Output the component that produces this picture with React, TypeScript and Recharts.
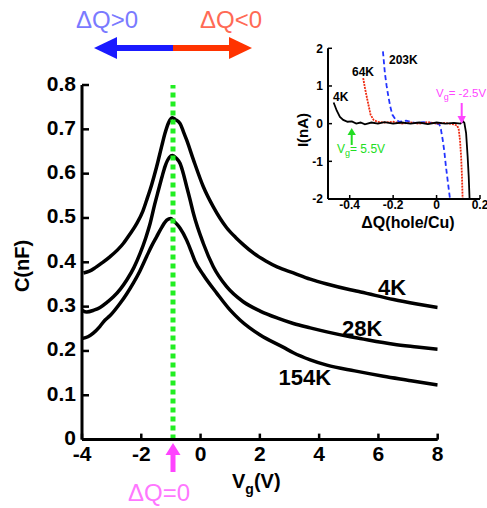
import { LineChart, Line, XAxis, YAxis, ReferenceLine, ReferenceDot } from 'recharts';

const FONT = '"Liberation Sans", Arial, Helvetica, sans-serif';

// main panel: C(nF) vs Vg(V)
const xTicks = [-4, -2, 0, 2, 4, 6, 8];
const yTicks = [0, 0.1, 0.2, 0.3, 0.4, 0.5, 0.6, 0.7, 0.8];

const vg4K = [-3.95, -3.75, -3.55, -3.3, -3.05, -2.8, -2.6, -2.4, -2.15, -1.95, -1.82, -1.65, -1.48, -1.3, -1.2, -1.08, -0.95, -0.85, -0.69, -0.58, -0.47, -0.24, 0.09, 0.43, 0.88, 1.2, 1.44, 1.8, 2.2, 2.6, 3.13, 3.7, 4.26, 5.05, 5.4, 6.51, 7.3, 8.0];
const c4K = [0.376, 0.38, 0.388, 0.4, 0.413, 0.428, 0.443, 0.462, 0.488, 0.515, 0.54, 0.575, 0.616, 0.665, 0.691, 0.715, 0.726, 0.722, 0.713, 0.695, 0.676, 0.631, 0.571, 0.525, 0.478, 0.455, 0.44, 0.42, 0.403, 0.389, 0.376, 0.362, 0.351, 0.338, 0.333, 0.316, 0.306, 0.298];

const vg28K = [-4.0, -3.84, -3.6, -3.39, -3.15, -2.94, -2.7, -2.49, -2.25, -2.04, -1.85, -1.7, -1.55, -1.42, -1.3, -1.2, -1.05, -0.95, -0.82, -0.69, -0.58, -0.47, -0.35, -0.24, 0.09, 0.43, 0.88, 1.44, 2.01, 2.6, 3.13, 3.7, 4.26, 5.05, 5.38, 6.51, 7.3, 8.0];
const c28K = [0.292, 0.288, 0.292, 0.298, 0.31, 0.322, 0.34, 0.36, 0.388, 0.42, 0.455, 0.488, 0.53, 0.563, 0.593, 0.616, 0.637, 0.641, 0.635, 0.623, 0.6, 0.571, 0.54, 0.51, 0.443, 0.39, 0.345, 0.311, 0.29, 0.274, 0.262, 0.252, 0.243, 0.232, 0.228, 0.215, 0.209, 0.204];

const vg154K = [-4.0, -3.8, -3.62, -3.4, -3.22, -3.05, -2.72, -2.5, -2.27, -2.05, -1.82, -1.65, -1.48, -1.3, -1.14, -1.0, -0.92, -0.8, -0.69, -0.47, -0.3, -0.19, 0.09, 0.55, 1.0, 1.33, 2.01, 2.8, 3.13, 3.7, 4.26, 5.2, 6.17, 7.1, 8.0];
const c154K = [0.228, 0.232, 0.24, 0.255, 0.27, 0.28, 0.307, 0.328, 0.353, 0.38, 0.413, 0.437, 0.458, 0.48, 0.495, 0.499, 0.494, 0.486, 0.477, 0.45, 0.422, 0.403, 0.372, 0.33, 0.292, 0.27, 0.236, 0.208, 0.196, 0.18, 0.168, 0.155, 0.143, 0.133, 0.123];

const neutralVg = -0.93;
const curveLabels = [
  { name: '4K', x: 6.46, y: 0.344 },
  { name: '28K', x: 5.45, y: 0.252 },
  { name: '154K', x: 3.52, y: 0.141 },
];

// inset: I(nA) vs dQ(hole/Cu)
const insetXTicks = [-0.4, -0.2, 0, 0.2];
const insetYTicks = [-2, -1, 0, 1, 2];

const dq4K = [-0.474, -0.46, -0.445, -0.43, -0.41, -0.39, -0.37, -0.35, -0.33, -0.3, -0.27, -0.24, -0.2, -0.16, -0.12, -0.08, -0.04, 0.0, 0.04, 0.08, 0.11, 0.122, 0.128, 0.136, 0.143, 0.148, 0.152];
const i4K = [0.56, 0.35, 0.18, 0.1, 0.05, 0.06, 0.0, 0.03, -0.02, 0.03, 0.0, 0.04, 0.0, 0.03, 0.0, 0.03, -0.01, 0.03, 0.0, 0.02, 0.0, 0.06, 0.02, -0.25, -0.87, -1.4, -2];

const dq64K = [-0.338, -0.33, -0.319, -0.304, -0.29, -0.273, -0.24, -0.2, -0.16, -0.12, -0.08, -0.04, 0.0, 0.04, 0.08, 0.095, 0.102, 0.108, 0.113, 0.117, 0.12];
const i64K = [1.21, 0.95, 0.64, 0.24, 0.1, 0.05, 0.03, 0.05, 0.0, 0.03, 0.0, 0.04, 0.0, 0.02, -0.02, -0.05, -0.15, -0.45, -0.87, -1.4, -2];

const dq203K = [-0.247, -0.242, -0.238, -0.23, -0.222, -0.213, -0.204, -0.19, -0.173, -0.14, -0.1, -0.06, -0.02, 0.0, 0.013, 0.02, 0.028, 0.036, 0.043, 0.052, 0.062];
const i203K = [1.92, 1.6, 1.34, 1.0, 0.72, 0.45, 0.24, 0.12, 0.05, 0.08, 0.02, 0.04, 0.02, 0.0, -0.02, -0.15, -0.42, -0.75, -1.13, -1.55, -2];

const zip = (xs: number[], ys: number[]) => xs.map((x, i) => ({ x, y: ys[i] }));

const MainXTick = ({ x, y, payload }: any) => (
  <g>
    <line x1={x} y1={y} x2={x} y2={y - 6} stroke="#000" strokeWidth={2.5} />
    <text x={x} y={y + 21} textAnchor="middle" fontFamily={FONT} fontWeight="bold" fontSize={21} fill="#000">
      {payload.value}
    </text>
  </g>
);

const MainYTick = ({ x, y, payload }: any) => (
  <g>
    <line x1={x} y1={y} x2={x + 7} y2={y} stroke="#000" strokeWidth={2.5} />
    <text x={x - 6} y={y + 5.5} textAnchor="end" fontFamily={FONT} fontWeight="bold" fontSize={21} fill="#000">
      {payload.value}
    </text>
  </g>
);

const InsetXTick = ({ x, y, payload }: any) => (
  <g>
    <line x1={x} y1={y} x2={x} y2={y - 4} stroke="#000" strokeWidth={1.5} />
    <text x={x} y={y + 10} textAnchor="middle" fontFamily={FONT} fontWeight="bold" fontSize={12} fill="#000">
      {payload.value}
    </text>
  </g>
);

const InsetYTick = ({ x, y, payload }: any) => (
  <g>
    <line x1={x} y1={y} x2={x + 4} y2={y} stroke="#000" strokeWidth={1.5} />
    <text x={x - 5} y={y + 4.3} textAnchor="end" fontFamily={FONT} fontWeight="bold" fontSize={12} fill="#000">
      {payload.value}
    </text>
  </g>
);

export default function App() {
  return (
    <div style={{ position: 'absolute', left: 0, top: 0, width: 487, height: 508, background: '#fff', overflow: 'hidden' }}>
      <div style={{ position: 'absolute', left: 0, top: 0 }}>
        <LineChart width={487} height={508} margin={{ top: 85, right: 49.3, left: 22, bottom: 38.4 }}>
          <XAxis
            dataKey="x"
            type="number"
            domain={[-4, 8]}
            ticks={xTicks}
            interval={0}
            height={30}
            tickSize={0}
            tickMargin={0}
            tickLine={false}
            tick={<MainXTick />}
            axisLine={{ stroke: '#000', strokeWidth: 3 }}
            allowDataOverflow
          />
          <YAxis
            type="number"
            domain={[0, 0.8]}
            ticks={yTicks}
            interval={0}
            width={60}
            tickSize={0}
            tickMargin={0}
            tickLine={false}
            tick={<MainYTick />}
            axisLine={{ stroke: '#000', strokeWidth: 3 }}
            allowDataOverflow
          />
          <Line data={zip(vg4K, c4K)} dataKey="y" type="monotone" stroke="#000" strokeWidth={3.5} dot={false} isAnimationActive={false} />
          <Line data={zip(vg28K, c28K)} dataKey="y" type="monotone" stroke="#000" strokeWidth={3.5} dot={false} isAnimationActive={false} />
          <Line data={zip(vg154K, c154K)} dataKey="y" type="monotone" stroke="#000" strokeWidth={3.5} dot={false} isAnimationActive={false} />
          <ReferenceLine x={neutralVg} stroke="#22ee22" strokeWidth={5} strokeDasharray="5 4" />
          {curveLabels.map((c) => (
            <ReferenceDot
              key={c.name}
              x={c.x}
              y={c.y}
              r={1}
              fill="none"
              stroke="none"
              label={{ value: c.name, position: 'center', fontFamily: FONT, fontWeight: 'bold', fontSize: 22, fill: '#000' }}
            />
          ))}
        </LineChart>
      </div>

      <div style={{ position: 'absolute', left: 290, top: 38 }}>
        <LineChart width={197} height={210} margin={{ top: 10.3, right: 7, left: 8, bottom: 29 }}>
          <XAxis
            dataKey="x"
            type="number"
            domain={[-0.5, 0.2]}
            ticks={insetXTicks}
            interval={0}
            height={20}
            tickSize={0}
            tickMargin={0}
            tickLine={false}
            tick={<InsetXTick />}
            axisLine={{ stroke: '#000', strokeWidth: 2 }}
            allowDataOverflow
          />
          <YAxis
            type="number"
            domain={[-2, 2]}
            ticks={insetYTicks}
            interval={0}
            width={30}
            tickSize={0}
            tickMargin={0}
            tickLine={false}
            tick={<InsetYTick />}
            axisLine={{ stroke: '#000', strokeWidth: 2 }}
            allowDataOverflow
          />
          <Line data={zip(dq203K, i203K)} dataKey="y" type="linear" stroke="#2233ff" strokeWidth={1.8} strokeDasharray="5 3" dot={false} isAnimationActive={false} />
          <Line data={zip(dq64K, i64K)} dataKey="y" type="linear" stroke="#ee2a10" strokeWidth={1.8} strokeDasharray="2 1" dot={false} isAnimationActive={false} />
          <Line data={zip(dq4K, i4K)} dataKey="y" type="linear" stroke="#000" strokeWidth={1.8} dot={false} isAnimationActive={false} />
        </LineChart>
      </div>

      <svg width={487} height={508} style={{ position: 'absolute', left: 0, top: 0, pointerEvents: 'none' }} fontFamily={FONT}>
        {/* top direction arrow */}
        <text x={76} y={27.5} fontSize={24} fill="#7a7aff">ΔQ&gt;0</text>
        <text x={200} y={27.5} fontSize={24} fill="#ff6a55">ΔQ&lt;0</text>
        <rect x={115} y={45} width={58} height={6} fill="#1a1aff" />
        <polygon points="94,48 117,37 117,59" fill="#1a1aff" />
        <rect x={173} y={45} width={58} height={6} fill="#ff3300" />
        <polygon points="252,48 229,37 229,59" fill="#ff3300" />

        {/* main axis titles */}
        <text x={22} y={266} fontSize={20} fontWeight="bold" textAnchor="middle" transform="rotate(-90 22 266)" dominantBaseline="central" fill="#000">C(nF)</text>
        <text x={232} y={488} fontSize={20} fontWeight="bold" fill="#000">
          V<tspan fontSize={14} dy={6}>g</tspan><tspan dy={-6} fontSize={20}>(V)</tspan>
        </text>

        {/* charge neutral marker */}
        <polygon points="173,443 165.5,455 180.5,455" fill="#ff44ff" />
        <rect x={170.5} y={454} width={5} height={18} fill="#ff44ff" />
        <text x={128} y={500.5} fontSize={24} fill="#ff77ff">ΔQ=0</text>

        {/* inset annotations */}
        <text x={302} y={130} fontSize={15} fontWeight="bold" textAnchor="middle" dominantBaseline="central" transform="rotate(-90 302 130)" fill="#000">I(nA)</text>
        <text x={408} y={228} fontSize={16} fontWeight="bold" textAnchor="middle" fill="#000">ΔQ(hole/Cu)</text>
        <text x={333} y={101} fontSize={12} fontWeight="bold" fill="#000">4K</text>
        <text x={352} y={76} fontSize={12} fontWeight="bold" fill="#000">64K</text>
        <text x={389} y={64} fontSize={12} fontWeight="bold" fill="#000">203K</text>

        <text x={436} y={97} fontSize={11.5} fill="#ff44ff">
          V<tspan fontSize={9} dy={3}>g</tspan><tspan dy={-3} fontSize={11.5}>= -2.5V</tspan>
        </text>
        <line x1={461.7} y1={103} x2={461.7} y2={117} stroke="#ff44ff" strokeWidth={2} />
        <polygon points="461.7,124 457.5,116 465.9,116" fill="#ff44ff" />

        <polygon points="351.7,128 347.5,135 355.9,135" fill="#22dd22" />
        <line x1={351.7} y1={134} x2={351.7} y2={145} stroke="#22dd22" strokeWidth={2} />
        <text x={337} y={153} fontSize={12} fill="#22dd22">
          V<tspan fontSize={9} dy={3}>g</tspan><tspan dy={-3} fontSize={12}>= 5.5V</tspan>
        </text>
      </svg>
    </div>
  );
}
